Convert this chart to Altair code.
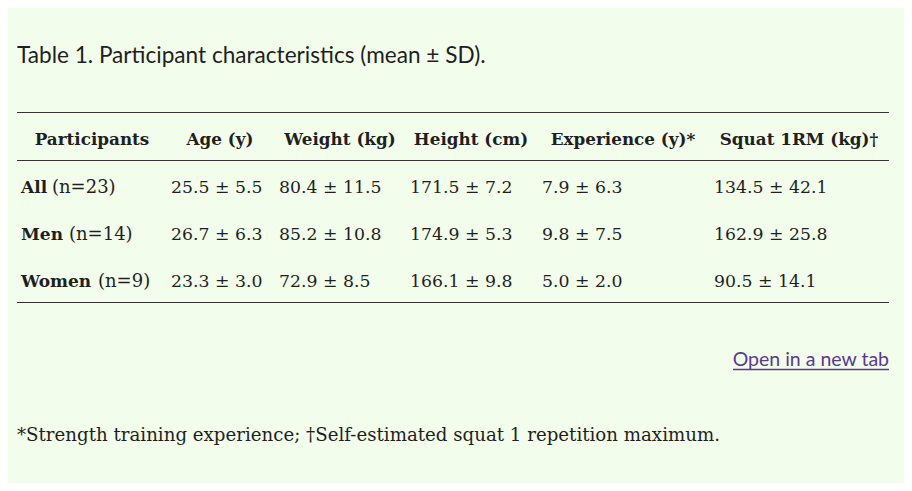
import altair as alt
import pandas as pd

# ---------------- data ----------------
title_text = "Table 1. Participant characteristics (mean ± SD)."
headers = ["Participants", "Age (y)", "Weight (kg)", "Height (cm)",
           "Experience (y)*", "Squat 1RM (kg)†"]
groups = ["All", "Men", "Women"]
group_n = [23, 14, 9]
age_mean = [25.5, 26.7, 23.3]
age_sd = [5.5, 6.3, 3.0]
weight_mean = [80.4, 85.2, 72.9]
weight_sd = [11.5, 10.8, 8.5]
height_mean = [171.5, 174.9, 166.1]
height_sd = [7.2, 5.3, 9.8]
exp_mean = [7.9, 9.8, 5.0]
exp_sd = [6.3, 7.5, 2.0]
squat_mean = [134.5, 162.9, 90.5]
squat_sd = [42.1, 25.8, 14.1]
footnote = "*Strength training experience; \u2020Self-estimated squat 1 repetition maximum."
link_text = "Open in a new tab"

# ---------------- layout (page pixel grid) ----------------
W, H = 896, 475
col_left = [21, 171, 279, 410, 542, 714]
col_center = [92, 220, 340, 471, 623, 799]
n_left = [52, 69, 98]
header_base = 145
row_base = [193, 240, 287]
rule_y = [112.5, 160.5, 302.5]
table_x = [17, 889]

SERIF = "DejaVu Serif"
SANS = "Lato"
INK = "#1f1f1f"
BG = "#f2fdec"
LINK = "#5a3a8c"

XS = alt.Scale(domain=[8, 8 + W], zero=False, nice=False)
YS = alt.Scale(domain=[8, 8 + H], zero=False, nice=False, reverse=True)


def enc(**kw):
    return dict(x=alt.X("x:Q", scale=XS, axis=None),
                y=alt.Y("y:Q", scale=YS, axis=None), **kw)


# header cells
hdr_df = pd.DataFrame({"t": headers, "x": col_center, "y": [header_base] * len(headers)})
hdr = alt.Chart(hdr_df).mark_text(
    font=SERIF, fontSize=16.8, fontWeight="bold", align="center",
    baseline="alphabetic", color=INK).encode(**enc(text="t:N"))

# group names (bold) and n (normal)
g_df = pd.DataFrame({"t": groups, "x": [col_left[0]] * 3, "y": row_base})
grp = alt.Chart(g_df).mark_text(
    font=SERIF, fontSize=17, fontWeight="bold", align="left",
    baseline="alphabetic", color=INK).encode(**enc(text="t:N"))

n_df = pd.DataFrame({"t": [f"(n={n})" for n in group_n], "x": n_left, "y": row_base})
grpn = alt.Chart(n_df).mark_text(
    font=SERIF, fontSize=18, align="left",
    baseline="alphabetic", color=INK).encode(**enc(text="t:N"))

# value cells
series = [(age_mean, age_sd), (weight_mean, weight_sd), (height_mean, height_sd),
          (exp_mean, exp_sd), (squat_mean, squat_sd)]
rows = []
for ci, (m, s) in enumerate(series, start=1):
    for ri in range(3):
        rows.append({"t": f"{m[ri]:.1f} \u00b1 {s[ri]:.1f}",
                     "x": col_left[ci], "y": row_base[ri]})
val_df = pd.DataFrame(rows)
vals = alt.Chart(val_df).mark_text(
    font=SERIF, fontSize=17.3, align="left",
    baseline="alphabetic", color=INK).encode(**enc(text="t:N"))

# table rules
r_df = pd.DataFrame({"y": rule_y, "x": [table_x[0]] * 3, "x2": [table_x[1]] * 3})
rules = alt.Chart(r_df).mark_rule(color="#333333", strokeWidth=1).encode(
    x=alt.X("x:Q", scale=XS, axis=None), x2="x2:Q",
    y=alt.Y("y:Q", scale=YS, axis=None))

# title
t_df = pd.DataFrame({"t": [title_text], "x": [17], "y": [63]})
title = alt.Chart(t_df).mark_text(
    font=SANS, fontSize=22.6, align="left", baseline="alphabetic",
    color=INK).encode(**enc(text="t:N"))

# link + underline
l_df = pd.DataFrame({"t": [link_text], "x": [889], "y": [366]})
link = alt.Chart(l_df).mark_text(
    font=SANS, fontSize=19.5, align="right", baseline="alphabetic",
    color=LINK).encode(**enc(text="t:N"))
u_df = pd.DataFrame({"x": [733], "x2": [889], "y": [369.5]})
underline = alt.Chart(u_df).mark_rule(color=LINK, strokeWidth=1.3).encode(
    x=alt.X("x:Q", scale=XS, axis=None), x2="x2:Q",
    y=alt.Y("y:Q", scale=YS, axis=None))

# footnote
f_df = pd.DataFrame({"t": [footnote], "x": [17], "y": [441]})
foot = alt.Chart(f_df).mark_text(
    font=SERIF, fontSize=18.2, align="left", baseline="alphabetic",
    color=INK).encode(**enc(text="t:N"))

chart = alt.layer(title, rules, hdr, grp, grpn, vals, link, underline, foot).properties(
    width=W, height=H, padding=0, background=BG,
    autosize=alt.AutoSizeParams(type="fit", contains="padding"),
).configure_view(strokeWidth=0, fill=BG)

chart.save("out.html", embed_options={"renderer": "svg", "actions": False})
